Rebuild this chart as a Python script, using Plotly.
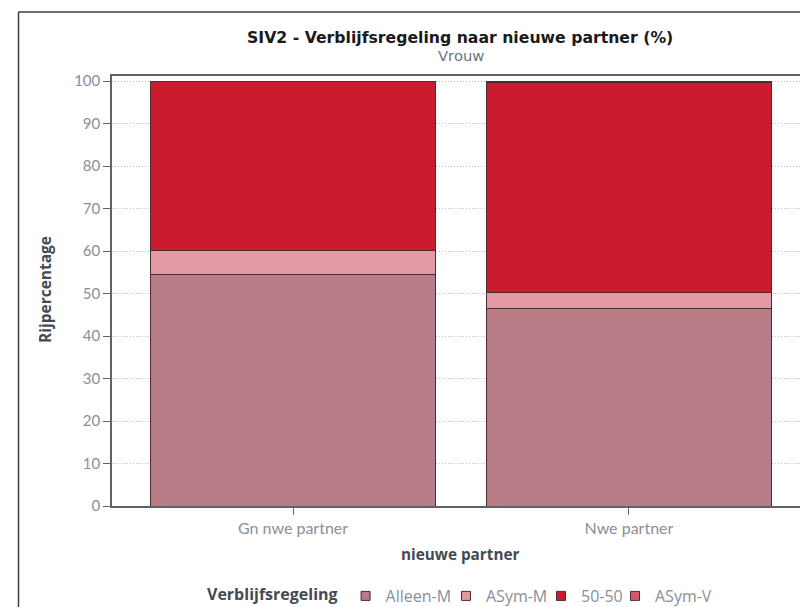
import plotly.graph_objects as go

categories = ["Gn nwe partner", "Nwe partner"]
series_names = ["Alleen-M", "ASym-M", "50-50", "ASym-V"]
alleen_m = [54.6, 46.5]
asym_m = [5.6, 3.7]
fifty = [39.8, 49.4]
asym_v = [0.0, 0.4]
y_ticks = [0, 10, 20, 30, 40, 50, 60, 70, 80, 90, 100]

colors = ["#B87C87", "#E599A5", "#CB1C2D", "#D9566A"]
values = [alleen_m, asym_m, fifty, asym_v]
edge = "#4a2c34"
legend_ids = ["legend", "legend2", "legend3", "legend4"]
legend_square_x = [364, 464, 559, 633]  # layout: where each legend entry sits

fig = go.Figure()
for name, vals, col in zip(series_names, values, colors):
    fig.add_trace(go.Bar(
        x=categories, y=vals, name=name, showlegend=False,
        marker=dict(color=col, line=dict(color=edge, width=1)),
    ))
# legend entries with small square symbols
for name, col, lid in zip(series_names, colors, legend_ids):
    fig.add_trace(go.Scatter(
        x=[None], y=[None], mode="markers", name=name, showlegend=True, legend=lid,
        marker=dict(symbol="square", size=9, color=col, line=dict(color=edge, width=1)),
    ))

OFF = 8  # page body margin
W, H = 800, 620
ml, mr, mt, mb = 104, 0, 68, 122
pw = W - ml - mr
ph = H - mt - mb

def px(x):
    return (x - OFF - ml) / pw

def py(y):
    return (H - mb - (y - OFF)) / ph

font_main = "Lato, 'Open Sans', sans-serif"
font_leg = "'Open Sans', sans-serif"
tick_col = "#8a8f99"
title_col = "#454a52"
leg_y = py(596)

legend_layouts = {}
for i, (lid, sx) in enumerate(zip(legend_ids, legend_square_x)):
    d = dict(
        orientation="h", xanchor="left", yanchor="middle", y=leg_y,
        font=dict(family=font_leg, size=16, color=tick_col),
        itemwidth=30, bgcolor="rgba(0,0,0,0)",
    )
    if i == 0:
        d["title"] = dict(text="<b>Verblijfsregeling</b>", font=dict(family=font_leg, size=16, color=title_col))
        d["x"] = px(205)
    else:
        d["x"] = px(sx - 18)
    legend_layouts[lid] = d

fig.update_layout(
    width=W, height=H,
    barmode="stack", bargap=0.149,
    margin=dict(l=ml, r=mr, t=mt, b=mb),
    paper_bgcolor="white", plot_bgcolor="white",
    font=dict(family=font_main, size=15, color=tick_col),
    showlegend=True,
    xaxis=dict(
        range=[-0.539, 1.533], showline=True, mirror=True, linecolor="#5e626a", linewidth=1.5,
        ticks="outside", ticklen=7, tickcolor="#5e626a", tickwidth=1,
        showgrid=False, tickfont=dict(family=font_main, size=16, color=tick_col), fixedrange=True,
    ),
    yaxis=dict(
        range=[0, 101.2], tickvals=y_ticks, showline=True, linecolor="#5e626a", linewidth=1.5,
        ticks="outside", ticklen=7, tickcolor="#5e626a", tickwidth=1,
        showgrid=True, gridcolor="#b9bcc2", griddash="1px,2px", gridwidth=1,
        zeroline=False, tickfont=dict(family=font_main, size=15, color=tick_col),
    ),
    annotations=[
        dict(text="<b>SIV2 - Verblijfsregeling naar nieuwe partner (%)</b>", x=px(460), y=py(38),
             xref="paper", yref="paper", showarrow=False, xanchor="center", yanchor="middle",
             font=dict(family="DejaVu Sans", size=15.7, color="#1a1a1a")),
        dict(text="Vrouw", x=px(461), y=py(56), xref="paper", yref="paper", showarrow=False,
             xanchor="center", yanchor="middle",
             font=dict(family="DejaVu Sans", size=14.8, color="#6b7385")),
        dict(text="<b>nieuwe partner</b>", x=px(460), y=py(554), xref="paper", yref="paper",
             showarrow=False, xanchor="center", yanchor="middle",
             font=dict(family=font_leg, size=15.3, color=title_col)),
        dict(text="<b>Rijpercentage</b>", x=px(45), y=py(290), xref="paper", yref="paper",
             showarrow=False, xanchor="center", yanchor="middle", textangle=-90,
             font=dict(family=font_leg, size=15.5, color=title_col)),
    ],
    shapes=[
        dict(type="line", xref="paper", yref="paper", x0=px(18.5), x1=px(18.5), y0=py(H + 20), y1=py(12),
             line=dict(color="#3a3f47", width=1.5)),
        dict(type="line", xref="paper", yref="paper", x0=px(18.5), x1=px(W + 20), y0=py(12), y1=py(12),
             line=dict(color="#3a3f47", width=1.5)),
    ],
    **legend_layouts,
)

fig.write_html("out.html")
